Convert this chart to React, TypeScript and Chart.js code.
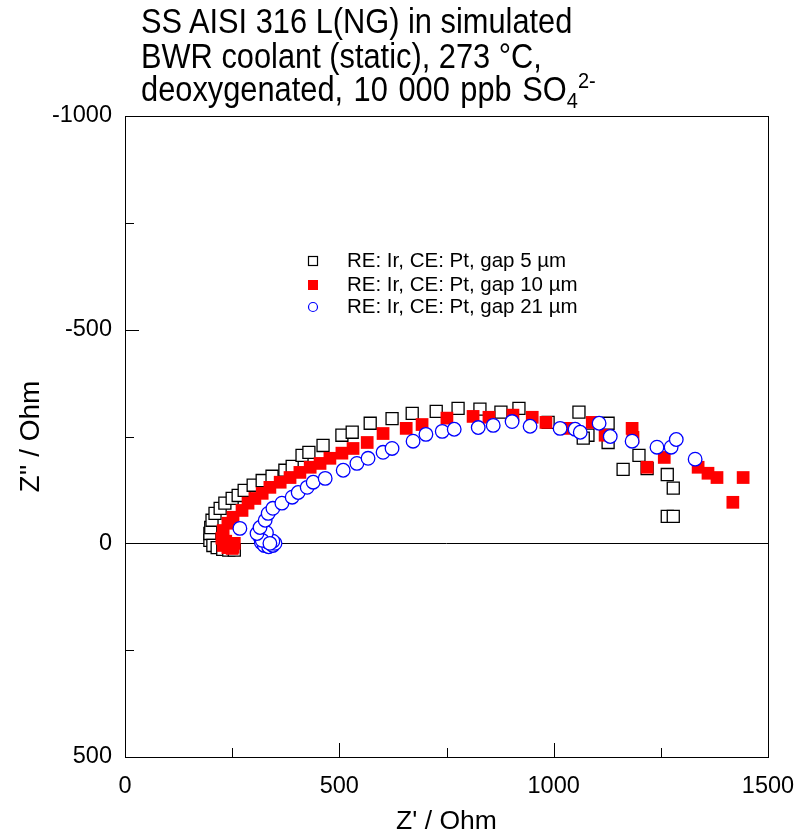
import React, { useEffect, useRef } from "react";
import { Chart, registerables } from "chart.js";

Chart.register(...registerables);

const FONT = "'Liberation Sans', Arial, Helvetica, sans-serif";

// RE: Ir, CE: Pt, gap 5 µm (open black squares)
const gap5X = [198, 198, 200, 203, 210, 222, 233, 250, 264, 278, 299, 320, 343, 373, 390, 413, 429, 462, 506, 530, 572, 623, 670, 726, 777, 828, 877, 919, 987, 1059, 1080, 1069, 1127, 1127, 1199, 1162, 1218, 1265, 1279, 1265, 1279, 205, 215, 228, 242, 255];
const gap5Y = [-7, -23, -37, -54, -70, -82, -94, -105, -112, -124, -136, -147, -157, -171, -180, -206, -213, -229, -253, -260, -281, -292, -304, -309, -316, -314, -307, -316, -283, -307, -253, -246, -281, -236, -206, -173, -175, -161, -129, -63, -63, 5, 10, 14, 16, 16];

// RE: Ir, CE: Pt, gap 10 µm (filled red squares)
const gap10X = [229, 252, 240, 235, 245, 255, 250, 226, 229, 240, 252, 273, 287, 303, 320, 338, 362, 385, 408, 432, 455, 478, 506, 532, 565, 602, 656, 693, 751, 812, 849, 905, 950, 982, 1034, 1090, 1120, 1183, 1185, 1218, 1258, 1337, 1360, 1381, 1442, 1418];
const gap10Y = [5, 9, 10, -5, 0, 0, 12, -12, -30, -47, -61, -77, -94, -105, -117, -131, -143, -154, -166, -178, -187, -199, -211, -222, -236, -257, -269, -278, -293, -297, -295, -300, -295, -283, -269, -283, -253, -269, -248, -178, -201, -178, -164, -154, -154, -96];

// RE: Ir, CE: Pt, gap 21 µm (open blue circles)
const gap21X = [268, 315, 318, 325, 335, 345, 350, 345, 333, 325, 330, 320, 338, 308, 315, 327, 334, 345, 366, 390, 404, 425, 439, 467, 509, 541, 567, 602, 623, 672, 702, 740, 768, 824, 859, 903, 945, 1015, 1050, 1062, 1106, 1132, 1183, 1241, 1274, 1286, 1330];
const gap21Y = [-35, -15, -2, 5, 8, 5, 0, -5, -3, -12, -25, -7, 0, -23, -37, -54, -70, -82, -94, -108, -119, -131, -143, -152, -171, -187, -199, -213, -222, -239, -255, -262, -267, -271, -276, -285, -274, -269, -267, -260, -281, -250, -239, -225, -225, -243, -197];

const seriesLabels = [
  "RE: Ir, CE: Pt, gap 5 µm",
  "RE: Ir, CE: Pt, gap 10 µm",
  "RE: Ir, CE: Pt, gap 21 µm",
];

const xTicks = [0, 500, 1000, 1500];
const xMinorTicks = [250, 750, 1250];
const yTicks = [-1000, -500, 0, 500];
const yMinorTicks = [-750, -250, 250];

const toPoints = (xs: number[], ys: number[]) => xs.map((x, i) => ({ x, y: ys[i] }));

const framePlugin = {
  id: "frame",
  beforeDatasetsDraw(chart: any) {
    const { ctx, chartArea: a, scales } = chart;
    const xs = scales.x;
    const ys = scales.y;
    ctx.save();
    ctx.strokeStyle = "#000";
    ctx.lineWidth = 1;
    const y0 = Math.round(ys.getPixelForValue(0)) + 0.5;
    ctx.beginPath();
    ctx.moveTo(a.left, y0);
    ctx.lineTo(a.right, y0);
    ctx.stroke();
    ctx.strokeRect(Math.round(a.left) + 0.5, Math.round(a.top) + 0.5, Math.round(a.right - a.left), Math.round(a.bottom - a.top));
    const drawX = (v: number, len: number) => {
      const px = Math.round(xs.getPixelForValue(v)) + 0.5;
      ctx.beginPath();
      ctx.moveTo(px, a.bottom);
      ctx.lineTo(px, a.bottom - len);
      ctx.stroke();
    };
    xTicks.forEach((v) => drawX(v, 14));
    xMinorTicks.forEach((v) => drawX(v, 9));
    const drawY = (v: number, len: number) => {
      const py = Math.round(ys.getPixelForValue(v)) + 0.5;
      ctx.beginPath();
      ctx.moveTo(a.left, py);
      ctx.lineTo(a.left + len, py);
      ctx.stroke();
    };
    yTicks.forEach((v) => drawY(v, 14));
    yMinorTicks.forEach((v) => drawY(v, 9));
    ctx.restore();
  },
};

const legendPlugin = {
  id: "customLegend",
  afterDraw(chart: any) {
    const { ctx } = chart;
    ctx.save();
    const mx = 313;
    const tx = 347;
    const rows = [261, 285, 307];
    ctx.lineWidth = 1.2;
    ctx.strokeStyle = "#000";
    ctx.fillStyle = "#fff";
    ctx.fillRect(mx - 4.5, rows[0] - 4.5, 9, 9);
    ctx.strokeRect(mx - 4.5, rows[0] - 4.5, 9, 9);
    ctx.fillStyle = "#ff0000";
    ctx.fillRect(mx - 5, rows[1] - 5, 10, 10);
    ctx.strokeStyle = "#0000ff";
    ctx.fillStyle = "#fff";
    ctx.beginPath();
    ctx.arc(mx, rows[2], 4.5, 0, Math.PI * 2);
    ctx.fill();
    ctx.stroke();
    ctx.fillStyle = "#000";
    ctx.font = `20.5px ${FONT}`;
    ctx.textBaseline = "middle";
    ctx.textAlign = "left";
    seriesLabels.forEach((t, i) => ctx.fillText(t, tx, rows[i]));
    ctx.restore();
  },
};

export default function App() {
  const ref = useRef<HTMLCanvasElement>(null);
  useEffect(() => {
    const canvas = ref.current;
    if (!canvas) return;
    const chart = new Chart(canvas, {
      type: "scatter",
      data: {
        datasets: [
          {
            label: seriesLabels[0],
            data: toPoints(gap5X, gap5Y),
            pointStyle: "rect",
            pointRadius: 8.5,
            backgroundColor: "#ffffff",
            borderColor: "#000000",
            borderWidth: 1.3,
            order: 3,
          },
          {
            label: seriesLabels[1],
            data: toPoints(gap10X, gap10Y),
            pointStyle: "rect",
            pointRadius: 9,
            backgroundColor: "#ff0000",
            borderColor: "#ff0000",
            borderWidth: 0,
            order: 2,
          },
          {
            label: seriesLabels[2],
            data: toPoints(gap21X, gap21Y),
            pointStyle: "circle",
            pointRadius: 6.8,
            backgroundColor: "#ffffff",
            borderColor: "#0000ff",
            borderWidth: 1.3,
            order: 1,
          },
        ],
      } as any,
      options: {
        responsive: false,
        animation: false,
        devicePixelRatio: 1,
        events: [],
        layout: { padding: { left: 0, right: 28, top: 116, bottom: 0 } },
        plugins: {
          legend: { display: false },
          tooltip: { enabled: false },
          title: { display: false },
        },
        scales: {
          x: {
            type: "linear",
            min: 0,
            max: 1500,
            afterFit: (s: any) => {
              s.height = 81;
              s.paddingLeft = 0;
              s.paddingRight = 0;
            },
            afterBuildTicks: (s: any) => {
              s.ticks = xTicks.map((v) => ({ value: v }));
            },
            grid: { display: false, drawTicks: false },
            border: { display: false },
            ticks: {
              color: "#000",
              font: { family: FONT, size: 23.5 },
              padding: 15,
              maxRotation: 0,
              autoSkip: false,
              callback: (v: any) => String(v),
            },
            title: {
              display: true,
              text: "Z' / Ohm",
              color: "#000",
              font: { family: FONT, size: 26.5 },
              padding: { top: 0, bottom: 0 },
            },
          },
          y: {
            type: "linear",
            reverse: true,
            min: -1000,
            max: 500,
            afterFit: (s: any) => {
              s.width = 125;
              s.paddingTop = 0;
              s.paddingBottom = 0;
            },
            afterBuildTicks: (s: any) => {
              s.ticks = yTicks.map((v) => ({ value: v }));
            },
            grid: { display: false, drawTicks: false },
            border: { display: false },
            ticks: {
              color: "#000",
              font: { family: FONT, size: 23.5 },
              padding: 13,
              autoSkip: false,
              callback: (v: any) => String(v),
            },
            title: {
              display: true,
              text: "Z'' / Ohm",
              color: "#000",
              font: { family: FONT, size: 28 },
              padding: { top: 14, bottom: 0 },
            },
          },
        },
      } as any,
      plugins: [framePlugin, legendPlugin],
    });
    return () => chart.destroy();
  }, []);

  return (
    <div style={{ position: "absolute", left: 0, top: 0, width: 796, height: 838, background: "#fff" }}>
      <canvas ref={ref} width={796} height={838} style={{ display: "block" }} />
      <div
        style={{
          position: "absolute",
          left: 141,
          top: 5,
          fontFamily: FONT,
          fontSize: 30.8,
          lineHeight: "30.6px",
          color: "#000",
          whiteSpace: "nowrap",
          transform: "scaleY(1.12)",
          transformOrigin: "0 0",
        }}
      >
        <div>SS AISI 316 L(NG) in simulated</div>
        <div>BWR coolant (static), 273 °C,</div>
        <div style={{ wordSpacing: 2 }}>
          deoxygenated, 10 000 ppb SO
          <span style={{ fontSize: 20, position: "relative", top: 6, lineHeight: 0 }}>4</span>
          <span style={{ fontSize: 20, position: "relative", top: -12, lineHeight: 0 }}>2-</span>
        </div>
      </div>
    </div>
  );
}
